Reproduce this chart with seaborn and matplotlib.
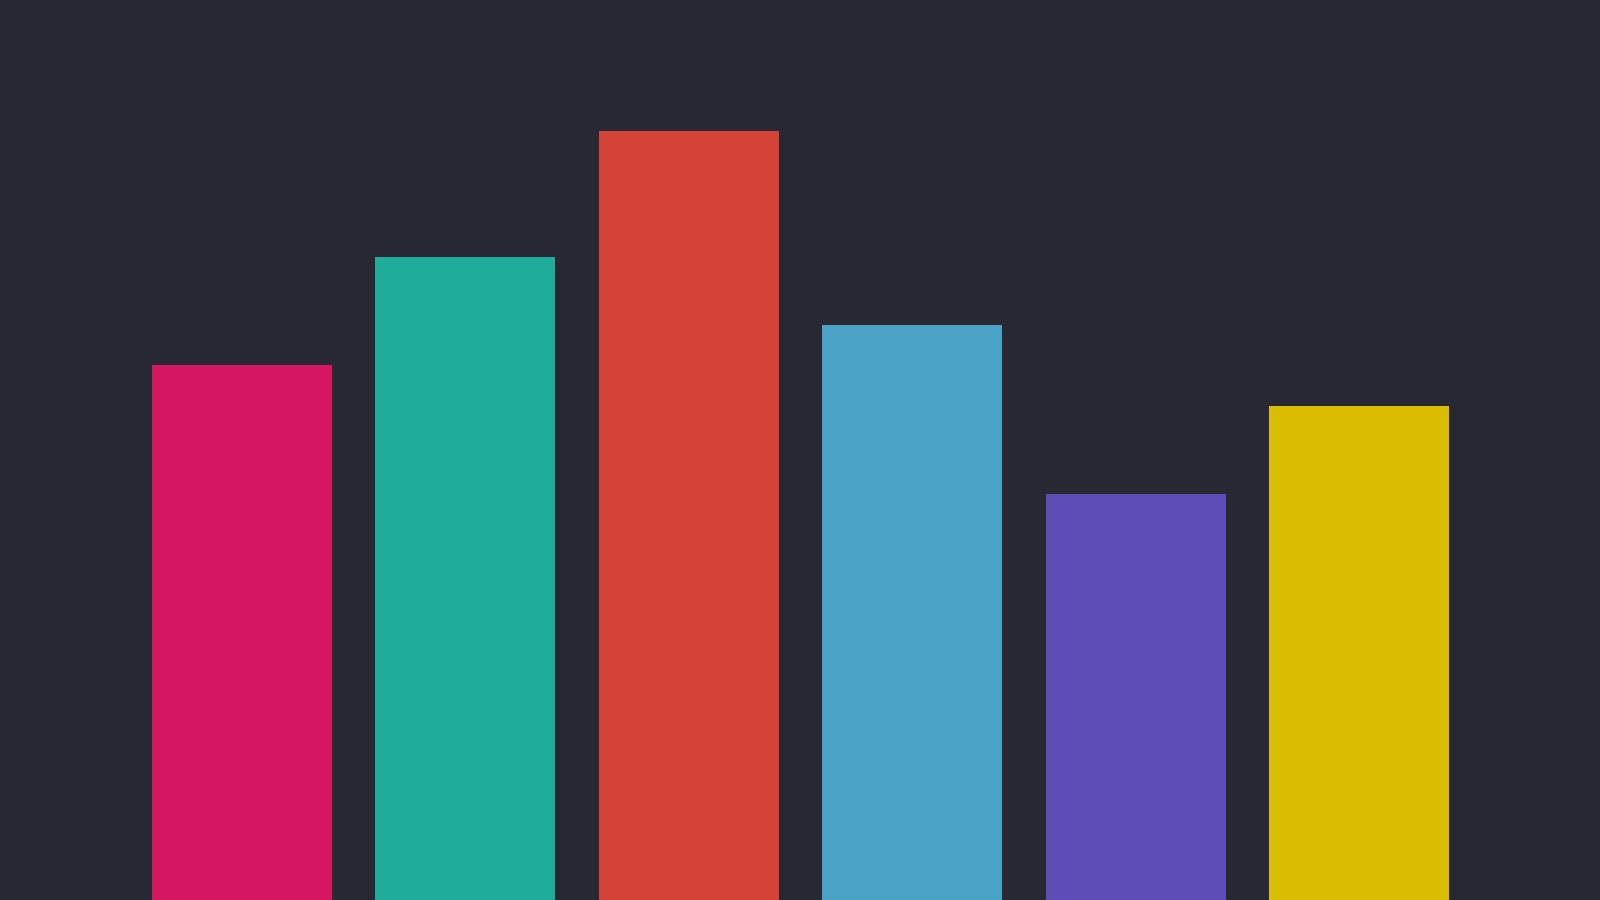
import matplotlib
matplotlib.use('Agg')
import matplotlib.pyplot as plt
import pandas as pd
import seaborn as sns

CATEGORIES = ['A', 'B', 'C', 'D', 'E', 'F']
VALUES = [59.4, 71.5, 85.4, 63.9, 45.1, 54.9]
COLOURS = ['#d6175f', '#1fac9b', '#d54237', '#4aa3c6', '#5e4db4', '#dabd02']

BG = '#282833'


def main():
    df = pd.DataFrame({'category': CATEGORIES, 'value': VALUES})

    fig = plt.figure(figsize=(16, 9), dpi=100)
    fig.patch.set_facecolor(BG)
    ax = fig.add_axes([0, 0, 1, 1])
    ax.set_facecolor(BG)

    # saturation=1 keeps the palette colours as given
    sns.barplot(data=df, x='category', y='value', hue='category',
                palette=COLOURS, saturation=1, width=0.805, linewidth=0,
                legend=False, ax=ax)

    ax.set_xlim(-1.082, 6.078)
    ax.set_ylim(0, 100)
    ax.set_axis_off()

    fig.savefig('out.png', facecolor=BG)


if __name__ == '__main__':
    main()
